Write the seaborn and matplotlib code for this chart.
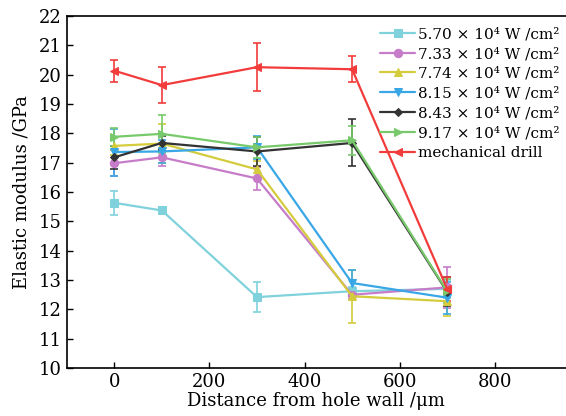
import matplotlib
matplotlib.use("Agg")
import matplotlib.pyplot as plt
import seaborn as sns
import pandas as pd

sns.set_style("ticks")
plt.rcParams['font.family'] = ['DejaVu Serif']
plt.rcParams['mathtext.fontset'] = 'dejavuserif'
plt.rcParams['text.color'] = 'black'
plt.rcParams['axes.labelcolor'] = 'black'

distance = [0, 100, 300, 500, 700]
labels = ["5.70 × 10⁴ W /cm²", "7.33 × 10⁴ W /cm²", "7.74 × 10⁴ W /cm²",
          "8.15 × 10⁴ W /cm²", "8.43 × 10⁴ W /cm²", "9.17 × 10⁴ W /cm²",
          "mechanical drill"]
v570 = [15.63, 15.37, 12.42, 12.62, 12.70]
v733 = [16.98, 17.18, 16.46, 12.50, 12.75]
v774 = [17.57, 17.65, 16.77, 12.45, 12.28]
v815 = [17.36, 17.38, 17.52, 12.90, 12.40]
v843 = [17.18, 17.67, 17.38, 17.67, 12.60]
v917 = [17.88, 17.98, 17.52, 17.76, 12.62]
vmech = [20.13, 19.64, 20.25, 20.18, 12.70]
e570 = [0.40, 0.12, 0.50, 0.15, 0.30]
e733 = [0.45, 0.30, 0.40, 0.15, 0.70]
e774 = [0.30, 0.65, 0.30, 0.90, 0.50]
e815 = [0.80, 0.40, 0.40, 0.45, 0.55]
e843 = [0.40, 0.25, 0.50, 0.80, 0.50]
e917 = [0.30, 0.65, 0.35, 0.50, 0.40]
emech = [0.38, 0.62, 0.82, 0.45, 0.40]

values = [v570, v733, v774, v815, v843, v917, vmech]
errors = [e570, e733, e774, e815, e843, e917, emech]
colors = ["#7fd2db", "#c67cc8", "#d4cc3c", "#39a7e6", "#333333", "#78c96b", "#f23c3c"]
markers = ["s", "o", "^", "v", "D", ">", "<"]
msizes = [6, 6, 6, 6, 4.5, 6, 6]

rows = []
for lab, vals in zip(labels, values):
    for d, v in zip(distance, vals):
        rows.append({"Distance": d, "Modulus": v, "Series": lab})
df = pd.DataFrame(rows)

fig = plt.figure(figsize=(5.66, 4.16), dpi=100)
ax = fig.add_axes([0.118, 0.115, 0.882, 0.847])

for lab, vals, errs, c, m, ms in zip(labels, values, errors, colors, markers, msizes):
    sub = df[df["Series"] == lab]
    ax.errorbar(sub["Distance"], sub["Modulus"], yerr=errs, fmt='none', ecolor=c,
                elinewidth=1.2, capsize=3, capthick=1.2, zorder=2)
    sns.lineplot(data=sub, x="Distance", y="Modulus", ax=ax, color=c, marker=m,
                 markersize=ms, markeredgecolor=c, linewidth=1.6, label=lab, zorder=3)

ax.set_xlim(-100, 950)
ax.set_ylim(10, 22)
ax.set_xticks([0, 200, 400, 600, 800])
ax.set_yticks(range(10, 23))
ax.tick_params(direction='in', length=4, width=1, labelsize=13, colors='black')
for s in ['left', 'bottom', 'top']:
    ax.spines[s].set_linewidth(1.2)
    ax.spines[s].set_color('black')
ax.spines['right'].set_visible(False)
ax.set_xlabel("Distance from hole wall /μm", fontsize=13, labelpad=1)
ax.set_ylabel("Elastic modulus /GPa", fontsize=13, labelpad=6)

leg = ax.legend(loc='upper right', frameon=False, fontsize=11, handlelength=2.3,
                handletextpad=0.2, labelspacing=0.38, borderaxespad=0.0,
                bbox_to_anchor=(1.0, 0.985))
for t in leg.get_texts():
    t.set_color('black')

fig.savefig("out.png", dpi=100)
